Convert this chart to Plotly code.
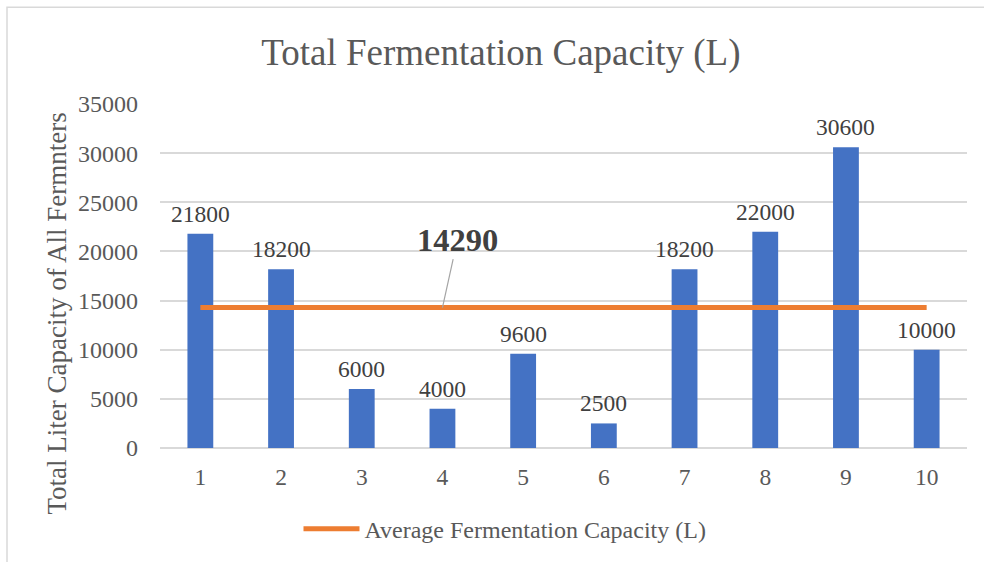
import plotly.graph_objects as go

# Fermenter totals per brewery (litres)
breweries = [1, 2, 3, 4, 5, 6, 7, 8, 9, 10]
capacity = [21800, 18200, 6000, 4000, 9600, 2500, 18200, 22000, 30600, 10000]
average_capacity = 14290
avg_label_brewery = 4

y_ticks = [0, 5000, 10000, 15000, 20000, 25000, 30000, 35000]

SERIF = "Liberation Serif, Times New Roman, serif"
GREY_TXT = "#595959"
DARK_TXT = "#404040"
BAR_BLUE = "#4472C4"
LINE_ORANGE = "#ED7D31"
GRID = "#D9D9D9"

fig = go.Figure()

fig.add_trace(go.Bar(
    x=breweries,
    y=capacity,
    width=0.32,
    marker=dict(color=BAR_BLUE, line=dict(width=0)),
    showlegend=False,
    hoverinfo="x+y",
))

fig.add_trace(go.Scatter(
    x=breweries,
    y=[average_capacity] * len(breweries),
    mode="lines",
    line=dict(color=LINE_ORANGE, width=5),
    name="Average Fermentation Capacity (L)",
))

# value labels above each bar
for b, v in zip(breweries, capacity):
    fig.add_annotation(
        x=b, y=v, text=str(v), showarrow=False,
        yanchor="bottom", yshift=5,
        font=dict(family=SERIF, size=23.5, color=DARK_TXT),
    )

# callout for the average line
fig.add_annotation(
    x=avg_label_brewery, y=average_capacity,
    text="<b>%d</b>" % average_capacity,
    showarrow=True, arrowhead=0, arrowwidth=1.2, arrowcolor="#A5A5A5",
    ax=15, ay=-68, standoff=0,
    font=dict(family=SERIF, size=32.5, color=DARK_TXT),
)

# vertical axis caption, centred on the whole chart height
fig.add_annotation(
    xref="paper", yref="paper", x=-0.1276, y=0.391,
    text="Total Liter Capacity of All Fermnters", textangle=-90,
    showarrow=False, xanchor="center", yanchor="middle",
    font=dict(family=SERIF, size=27, color=GREY_TXT),
)

# outer chart frame
fig.add_shape(
    type="rect", xref="paper", yref="paper",
    x0=-0.1896, x1=1.05, y0=-0.4, y1=1.281,
    line=dict(color=GRID, width=1.5), fillcolor="rgba(0,0,0,0)", layer="below",
)

fig.update_layout(
    width=984, height=562,
    margin=dict(l=160, r=17, t=104, b=113),
    paper_bgcolor="white", plot_bgcolor="white",
    font=dict(family=SERIF, color=GREY_TXT),
    title=dict(
        text="Total Fermentation Capacity (L)",
        x=0.509, xanchor="center", xref="container",
        y=1 - 52 / 562, yanchor="middle", yref="container",
        font=dict(family=SERIF, size=37, color=GREY_TXT),
    ),
    legend=dict(
        orientation="h", x=0.4275, xanchor="center", y=-0.232, yanchor="middle",
        font=dict(family=SERIF, size=24, color=GREY_TXT),
        itemwidth=56, bgcolor="rgba(0,0,0,0)",
    ),
    xaxis=dict(
        tickmode="array", tickvals=breweries, ticktext=[str(b) for b in breweries],
        range=[0.5, 10.5], showgrid=False, zeroline=False, showline=False,
        ticks="", ticklabelstandoff=12,
        tickfont=dict(family=SERIF, size=23.5, color=GREY_TXT),
    ),
    yaxis=dict(
        range=[0, 35005], tickmode="array", tickvals=y_ticks,
        ticktext=[str(t) for t in y_ticks],
        showgrid=True, gridcolor=GRID, gridwidth=1.5,
        zeroline=True, zerolinecolor=GRID, zerolinewidth=1.5,
        showline=False, ticks="", ticklabelstandoff=21,
        tickfont=dict(family=SERIF, size=24, color=GREY_TXT),
    ),
)

fig.write_html("out.html")
